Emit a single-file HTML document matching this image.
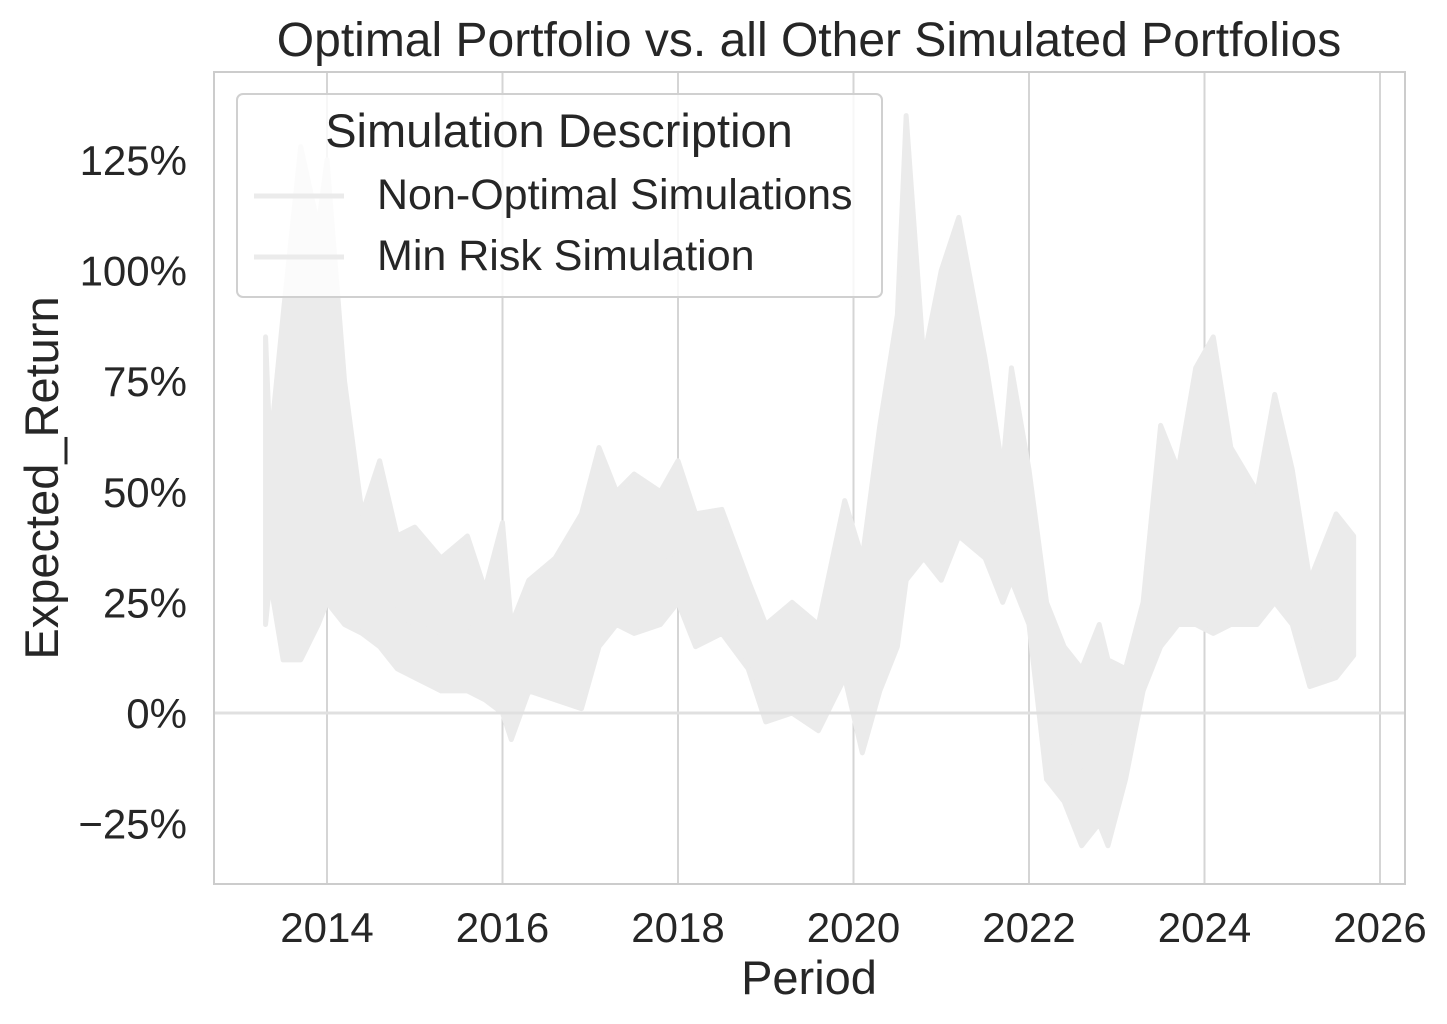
<!DOCTYPE html>
<html><head><meta charset="utf-8">
<style>
html,body{margin:0;padding:0;background:#fff;}
svg{display:block;font-family:"Liberation Sans","DejaVu Sans",sans-serif;}
</style></head>
<body>
<svg id="chart" width="1447" height="1024" viewBox="0 0 1447 1024" xmlns="http://www.w3.org/2000/svg">
<rect width="1447" height="1024" fill="#fff"/>
<g id="grid"></g>
<g id="marks"></g>
<g id="axes"></g>
<text x="809" y="56" font-size="48" text-anchor="middle" fill="#262626">Optimal Portfolio vs. all Other Simulated Portfolios</text>
<text x="809" y="994" font-size="47" text-anchor="middle" fill="#262626">Period</text>
<text transform="translate(58,478) rotate(-90)" font-size="47" text-anchor="middle" fill="#262626">Expected_Return</text>
<g>
<rect x="237" y="94" width="645" height="203" rx="6" fill="#fff" fill-opacity="0.8" stroke="#d0d0d0" stroke-width="2"/>
<text x="559" y="147" font-size="47" text-anchor="middle" fill="#262626">Simulation Description</text>
<g>
<line x1="254" y1="196" x2="344" y2="196" stroke="#ebebeb" stroke-width="5"/>
<text x="377" y="209" font-size="43" fill="#262626">Non-Optimal Simulations</text></g>
<g>
<line x1="254" y1="257" x2="344" y2="257" stroke="#ebebeb" stroke-width="5"/>
<text x="377" y="270" font-size="43" fill="#262626">Min Risk Simulation</text></g>
</g>
</svg>
<script>
const dates=[2013.3,2013.35,2013.5,2013.7,2013.9,2014.0,2014.2,2014.4,2014.6,2014.8,2015.0,2015.3,2015.6,2015.8,2016.0,2016.1,2016.3,2016.6,2016.9,2017.1,2017.3,2017.5,2017.8,2018.0,2018.2,2018.5,2018.8,2019.0,2019.3,2019.6,2019.9,2020.1,2020.3,2020.5,2020.6,2020.8,2021.0,2021.2,2021.5,2021.7,2021.8,2022.0,2022.2,2022.4,2022.6,2022.8,2022.9,2023.1,2023.3,2023.5,2023.7,2023.9,2024.1,2024.3,2024.6,2024.8,2025.0,2025.2,2025.5,2025.7];
const upperVals=[85,60,90,128,110,125,75,45,57,40,42,35,40,28,43,20,30,35,45,60,50,54,50,57,45,46,30,20,25,20,48,35,65,90,135,80,100,112,80,55,78,55,25,15,10,20,12,10,25,65,55,78,85,60,50,72,55,30,45,40];
const lowerVals=[20,30,12,12,20,25,20,18,15,10,8,5,5,3,0,-6,5,3,1,15,20,18,20,25,15,18,10,-2,0,-4,8,-9,5,15,30,35,30,40,35,25,30,20,-15,-20,-30,-25,-30,-15,5,15,20,20,18,20,20,25,20,6,8,13];
const midVals=[45,40,40,60,55,70,40,30,30,22,20,18,20,14,20,5,15,15,20,35,32,35,32,38,28,30,18,8,10,6,25,10,30,45,70,55,60,70,55,38,50,35,5,-5,-12,-5,-12,-3,12,35,35,42,45,35,32,45,35,15,22,25];
const yTicks=[-25,0,25,50,75,100,125];
const xTicks=[2014,2016,2018,2020,2022,2024,2026];
const NS="http://www.w3.org/2000/svg";
const L=214,R=1405,T=72,B=884;
const xs=d=>327+(d-2014)*87.75;
const ys=v=>713-v*4.425;
function el(t,a,p){const e=document.createElementNS(NS,t);for(const k in a)e.setAttribute(k,a[k]);p.appendChild(e);return e;}
const grid=document.getElementById('grid'),marks=document.getElementById('marks'),axes=document.getElementById('axes');
xTicks.forEach(t=>{
 const g=el('line',{x1:xs(t),x2:xs(t),y1:T,y2:B,stroke:'#d5d5d5','stroke-width':2},grid);
 
 
 const tx=el('text',{x:xs(t),y:B+58,'font-size':42,'text-anchor':'middle',fill:'#262626'},axes);
 tx.textContent=t;
 
 
});
yTicks.forEach(t=>{
 const tx=el('text',{x:187,y:ys(t)+15,'font-size':42,'text-anchor':'end',fill:'#262626'},axes);
 tx.textContent=(t<0?'\u2212'+(-t):t)+'%';
 
 
});
let pts=dates.map((d,i)=>xs(d)+','+ys(upperVals[i]));
for(let i=dates.length-1;i>=0;i--)pts.push(xs(dates[i])+','+ys(lowerVals[i]));
const band=el('polygon',{points:pts.join(' '),fill:'#ebebeb',stroke:'#ebebeb','stroke-width':5,'stroke-linejoin':'round'},marks);


const mid=el('polyline',{points:dates.map((d,i)=>xs(d)+','+ys(midVals[i])).join(' '),fill:'none',stroke:'#ebebeb','stroke-width':4},marks);


const z=el('line',{x1:L,x2:R,y1:ys(0),y2:ys(0),stroke:'#e0e0e0','stroke-width':3},marks);


const fr=el('rect',{x:L,y:T,width:R-L,height:B-T,fill:'none',stroke:'#cccccc','stroke-width':2},axes);


</script>
</body></html>
